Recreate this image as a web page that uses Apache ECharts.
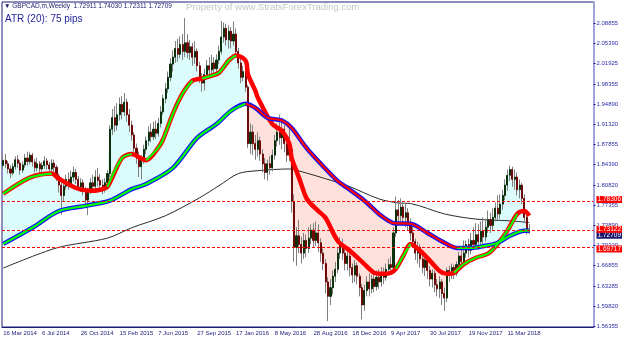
<!DOCTYPE html>
<html>
<head>
<meta charset="utf-8">
<script src="https://cdn.jsdelivr.net/npm/echarts@6/dist/echarts.min.js"></script>
<style>
html, body { margin: 0; padding: 0; background: #fff; }
#main { width: 625px; height: 340px; }
</style>
</head>
<body>
<div id="main"></div>
<script>
// weekly candles: [open, close, low, high]
var candles = [
  [1.842,1.851,1.836,1.858],[1.851,1.845,1.838,1.862],[1.845,1.836,1.828,1.850],[1.836,1.829,1.820,1.842],
  [1.829,1.840,1.825,1.846],[1.840,1.852,1.835,1.858],[1.852,1.846,1.838,1.860],[1.846,1.834,1.826,1.851],
  [1.834,1.843,1.829,1.849],[1.843,1.855,1.838,1.862],[1.855,1.849,1.842,1.866],[1.849,1.860,1.844,1.865],
  [1.860,1.848,1.840,1.864],[1.848,1.838,1.830,1.853],[1.838,1.845,1.832,1.856],[1.845,1.836,1.828,1.850],
  [1.836,1.842,1.827,1.848],[1.842,1.850,1.836,1.858],[1.850,1.843,1.835,1.855],[1.843,1.836,1.829,1.848],
  [1.836,1.846,1.831,1.853],[1.846,1.839,1.830,1.852],[1.839,1.824,1.815,1.843],[1.824,1.808,1.795,1.828],
  [1.808,1.790,1.757,1.813],[1.790,1.806,1.780,1.812],[1.806,1.818,1.800,1.826],[1.818,1.810,1.800,1.830],
  [1.810,1.822,1.805,1.833],[1.822,1.830,1.814,1.840],[1.830,1.818,1.810,1.836],[1.818,1.805,1.797,1.824],
  [1.805,1.812,1.796,1.820],[1.812,1.800,1.790,1.818],[1.800,1.782,1.768,1.805],[1.782,1.798,1.756,1.803],
  [1.798,1.812,1.792,1.820],[1.812,1.806,1.798,1.826],[1.806,1.822,1.800,1.834],[1.822,1.816,1.806,1.838],
  [1.816,1.808,1.798,1.827],[1.808,1.800,1.792,1.818],[1.800,1.812,1.795,1.820],[1.812,1.828,1.804,1.834],
  [1.828,1.905,1.822,1.912],[1.905,1.925,1.895,1.940],[1.925,1.912,1.900,1.945],[1.912,1.930,1.903,1.950],
  [1.930,1.948,1.920,1.960],[1.948,1.935,1.922,1.962],[1.935,1.952,1.928,1.968],[1.952,1.930,1.918,1.958],
  [1.930,1.912,1.900,1.940],[1.912,1.895,1.885,1.920],[1.895,1.872,1.862,1.900],[1.872,1.858,1.845,1.880],
  [1.858,1.840,1.822,1.866],[1.840,1.852,1.818,1.860],[1.852,1.870,1.845,1.878],[1.870,1.885,1.862,1.892],
  [1.885,1.900,1.876,1.910],[1.900,1.892,1.882,1.915],[1.892,1.905,1.886,1.918],[1.905,1.898,1.888,1.920],
  [1.898,1.915,1.892,1.925],[1.915,1.935,1.908,1.945],[1.935,1.958,1.930,1.965],[1.958,1.975,1.950,1.985],
  [1.975,1.995,1.968,2.005],[1.995,2.018,1.988,2.028],[2.018,2.030,2.005,2.042],[2.030,2.045,2.020,2.058],
  [2.045,2.035,2.022,2.062],[2.035,2.052,2.028,2.066],[2.052,2.040,2.025,2.070],[2.040,2.055,2.030,2.098],
  [2.055,2.038,2.028,2.070],[2.038,2.048,2.025,2.060],[2.048,2.030,2.015,2.055],[2.030,2.040,2.018,2.058],
  [2.040,2.015,2.005,2.045],[2.015,1.995,1.985,2.022],[1.995,1.985,1.970,2.002],[1.985,2.000,1.972,2.010],
  [2.000,2.015,1.995,2.025],[2.015,2.008,1.998,2.030],[2.008,2.020,2.000,2.034],[2.020,2.010,2.002,2.030],
  [2.010,2.025,2.004,2.035],[2.025,2.040,2.018,2.050],[2.040,2.065,2.035,2.093],[2.065,2.080,2.055,2.090],
  [2.080,2.060,2.050,2.088],[2.060,2.075,2.045,2.085],[2.075,2.058,2.045,2.082],[2.058,2.070,2.050,2.092],
  [2.070,2.040,2.030,2.080],[2.040,2.020,2.010,2.046],[2.020,1.995,1.985,2.028],[1.995,2.005,1.988,2.015],
  [2.005,1.978,1.970,2.012],[1.978,1.880,1.872,1.982],[1.880,1.900,1.862,1.915],[1.900,1.880,1.860,1.912],
  [1.880,1.870,1.852,1.895],[1.870,1.885,1.858,1.900],[1.885,1.862,1.850,1.892],[1.862,1.845,1.830,1.870],
  [1.845,1.830,1.818,1.855],[1.830,1.845,1.816,1.852],[1.845,1.838,1.826,1.858],[1.838,1.860,1.832,1.870],
  [1.860,1.885,1.852,1.895],[1.885,1.900,1.875,1.915],[1.900,1.890,1.878,1.930],[1.890,1.905,1.870,1.925],
  [1.905,1.880,1.865,1.912],[1.880,1.860,1.848,1.888],[1.860,1.870,1.850,1.912],[1.870,1.780,1.760,1.876],
  [1.780,1.700,1.675,1.792],[1.700,1.720,1.668,1.735],[1.720,1.705,1.690,1.748],[1.705,1.690,1.672,1.718],
  [1.690,1.712,1.680,1.725],[1.712,1.698,1.683,1.722],[1.698,1.716,1.690,1.735],[1.716,1.730,1.705,1.740],
  [1.730,1.712,1.700,1.742],[1.712,1.725,1.702,1.745],[1.725,1.708,1.692,1.740],[1.708,1.690,1.675,1.716],
  [1.690,1.672,1.660,1.698],[1.672,1.640,1.620,1.680],[1.640,1.615,1.572,1.648],[1.615,1.630,1.600,1.645],
  [1.630,1.650,1.618,1.660],[1.650,1.662,1.640,1.675],[1.662,1.690,1.655,1.700],[1.690,1.705,1.680,1.718],
  [1.705,1.690,1.678,1.715],[1.690,1.672,1.660,1.698],[1.672,1.685,1.660,1.695],[1.685,1.665,1.650,1.692],
  [1.665,1.652,1.638,1.672],[1.652,1.668,1.640,1.678],[1.668,1.650,1.636,1.674],[1.650,1.630,1.615,1.655],
  [1.630,1.600,1.575,1.636],[1.600,1.625,1.590,1.635],[1.625,1.640,1.615,1.650],[1.640,1.628,1.615,1.655],
  [1.628,1.645,1.620,1.652],[1.645,1.632,1.622,1.656],[1.632,1.648,1.625,1.660],[1.648,1.640,1.628,1.662],
  [1.640,1.655,1.632,1.666],[1.655,1.648,1.636,1.665],[1.648,1.662,1.642,1.672],[1.662,1.670,1.655,1.680],
  [1.670,1.665,1.652,1.684],[1.665,1.725,1.660,1.735],[1.725,1.765,1.718,1.788],[1.765,1.755,1.738,1.782],
  [1.755,1.770,1.745,1.785],[1.770,1.752,1.740,1.778],[1.752,1.760,1.735,1.775],[1.760,1.742,1.730,1.768],
  [1.742,1.725,1.712,1.750],[1.725,1.710,1.700,1.738],[1.710,1.690,1.678,1.715],[1.690,1.700,1.672,1.710],
  [1.700,1.680,1.665,1.706],[1.680,1.665,1.655,1.690],[1.665,1.678,1.650,1.685],[1.678,1.660,1.645,1.684],
  [1.660,1.645,1.632,1.668],[1.645,1.655,1.630,1.662],[1.655,1.635,1.622,1.660],[1.635,1.628,1.615,1.645],
  [1.628,1.640,1.612,1.650],[1.640,1.620,1.600,1.645],[1.620,1.612,1.590,1.630],[1.612,1.660,1.605,1.665],
  [1.660,1.652,1.640,1.668],[1.652,1.665,1.645,1.672],[1.665,1.655,1.645,1.670],[1.655,1.670,1.650,1.676],
  [1.670,1.685,1.662,1.692],[1.685,1.675,1.665,1.702],[1.675,1.690,1.668,1.712],[1.690,1.705,1.682,1.712],
  [1.705,1.695,1.683,1.715],[1.695,1.712,1.688,1.725],[1.712,1.705,1.695,1.735],[1.705,1.722,1.700,1.742],
  [1.722,1.710,1.695,1.740],[1.710,1.728,1.702,1.745],[1.728,1.718,1.705,1.752],[1.718,1.735,1.710,1.750],
  [1.735,1.748,1.725,1.764],[1.748,1.738,1.725,1.760],[1.738,1.752,1.730,1.768],[1.752,1.768,1.745,1.778],
  [1.768,1.758,1.748,1.790],[1.758,1.775,1.750,1.792],[1.775,1.790,1.765,1.800],[1.790,1.808,1.782,1.818],
  [1.808,1.825,1.798,1.835],[1.825,1.835,1.815,1.842],[1.835,1.818,1.805,1.840],[1.818,1.822,1.800,1.835],
  [1.822,1.800,1.790,1.830],[1.800,1.808,1.785,1.818],[1.808,1.785,1.775,1.812],[1.785,1.752,1.745,1.792],
  [1.752,1.72911,1.722,1.760],[1.72911,1.72709,1.72311,1.74030]
];

// moving averages read at key weeks: [week index, price]
var fastMA = [
  [0,1.793],[11,1.821],[20,1.828],[23,1.819],[30,1.803],[36,1.798],[40,1.800],[43,1.805],
  [49,1.855],[53,1.862],[57,1.854],[59,1.851],[64,1.873],[66,1.888],[70,1.932],[74,1.967],
  [78,1.989],[82,1.993],[86,1.998],[89,2.003],[93,2.024],[96,2.033],[100,2.024],[101,2.000],
  [104,1.972],[105,1.960],[111,1.914],[115,1.902],[118,1.880],[119,1.855],[122,1.821],[125,1.786],
  [127,1.775],[130,1.763],[133,1.751],[138,1.711],[143,1.694],[149,1.671],[153,1.656],[157,1.654],
  [160,1.656],[162,1.663],[165,1.685],[168,1.706],[172,1.694],[176,1.677],[180,1.659],[183,1.654],
  [186,1.656],[190,1.671],[195,1.682],[200,1.689],[204,1.706],[208,1.729],[212,1.758],[215,1.763],
  [217,1.755]
];
var slowMA = [
  [0,1.706],[12,1.734],[23,1.763],[34,1.772],[44,1.781],[53,1.801],[59,1.810],[70,1.838],
  [80,1.890],[88,1.914],[94,1.937],[100,1.949],[104,1.942],[109,1.925],[115,1.920],[119,1.907],
  [125,1.873],[131,1.845],[138,1.815],[142,1.803],[149,1.781],[155,1.758],[159,1.746],[161,1.742],
  [168,1.741],[175,1.725],[182,1.708],[187,1.699],[193,1.699],[198,1.702],[204,1.708],[209,1.720],
  [215,1.729],[217,1.729]
];
var longMA = [
  [0,1.664],[22,1.699],[43,1.716],[53,1.734],[67,1.755],[81,1.786],[89,1.807],[97,1.828],
  [105,1.833],[118,1.836],[125,1.829],[133,1.819],[142,1.807],[155,1.784],[163,1.777],[168,1.776],
  [182,1.758],[195,1.749],[209,1.746],[217,1.743]
];

// week ranges where each average is rising / falling
var fastUp = [[0,20],[43,53],[59,78],[82,96],[162,168],[186,212]];
var slowUp = [[0,100],[187,217]];
var slowDown = [[100,187]];

var levels = [1.78306, 1.73122, 1.69717];
var lastPrice = 1.72709;
var yTicks = [2.08855, 2.05390, 2.01925, 1.98355, 1.94890, 1.91320, 1.87855, 1.84390,
  1.80820, 1.77355, 1.73890, 1.70320, 1.66855, 1.63285, 1.59820, 1.56355];
var xLabels = ['16 Mar 2014', '6 Jul 2014', '26 Oct 2014', '15 Feb 2015', '7 Jun 2015',
  '27 Sep 2015', '17 Jan 2016', '8 May 2016', '28 Aug 2016', '18 Dec 2016', '9 Apr 2017',
  '30 Jul 2017', '19 Nov 2017', '11 Mar 2018'];

var weeks = 244; // includes the empty shift area on the right
var cats = [];
for (var i = 0; i < weeks; i++) cats.push(String(i));

var UP = '#00ff00', DOWN = '#ff0000';
var NAVY = '#1c1c78';
var FONT = 'Liberation Sans';
var Y_MIN = 1.5618, Y_MAX = 2.1257;

// bodies only: low/high clipped to the body
var bodies = candles.map(function (c) {
  return [c[0], c[1], Math.min(c[0], c[1]), Math.max(c[0], c[1])];
});

function showTick(idx) { return idx % 16 === 0 && idx / 16 < xLabels.length; }

// area between the close and the slow average
function fillSeries(a, b, color) {
  return {
    type: 'custom',
    z: 1,
    silent: true,
    data: [[a, candles[a][1]]],
    renderItem: function (params, api) {
      var pts = [];
      for (var i = a; i <= b; i++) pts.push(api.coord([i, candles[i][1]]));
      for (var k = slowMA.length - 1; k >= 0; k--) {
        if (slowMA[k][0] >= a && slowMA[k][0] <= b) pts.push(api.coord(slowMA[k]));
      }
      return { type: 'polygon', shape: { points: pts }, style: { fill: color } };
    }
  };
}

function maLine(points, color, width) {
  return {
    type: 'line', data: points, smooth: 0.3, showSymbol: false, silent: true, z: 4,
    lineStyle: { color: color, width: width }
  };
}

function overlays(points, ranges, color, width) {
  return ranges.map(function (r) {
    return maLine(points.filter(function (p) { return p[0] >= r[0] && p[0] <= r[1]; }), color, width);
  });
}

// extra right axis that only carries boxed price tags
function tagAxis(values, bg, vAlign) {
  return {
    type: 'value', position: 'right', min: Y_MIN, max: Y_MAX, z: 5,
    axisLine: { show: false }, axisTick: { show: false }, splitLine: { show: false },
    axisLabel: {
      customValues: values, margin: 3, verticalAlign: vAlign,
      color: '#fff', backgroundColor: bg, fontSize: 6.5, fontFamily: FONT,
      padding: [0, 1, 0, 1], lineHeight: 7,
      formatter: function (v) { return v.toFixed(5); }
    }
  };
}

var chart = echarts.init(document.getElementById('main'));

var series = [
  fillSeries(0, 100, '#dcfbfb'),
  fillSeries(100, 193, '#ffe1dc'),
  fillSeries(193, 217, '#dcfbfb'),
  {
    type: 'line', data: longMA, smooth: 0.3, showSymbol: false, silent: true, z: 2,
    lineStyle: { color: '#2a2a2a', width: 1 }
  },
  {
    type: 'candlestick', data: candles, barWidth: 0.8, silent: true, z: 3,
    itemStyle: { color: '#808080', color0: '#808080', borderColor: '#808080', borderColor0: '#808080', borderWidth: 1 }
  },
  {
    type: 'candlestick', data: bodies, barWidth: 1.6, silent: true, z: 3,
    itemStyle: { color: '#0c300c', color0: '#6e0a0a', borderColor: '#0c300c', borderColor0: '#6e0a0a', borderWidth: 1 },
    markLine: {
      symbol: 'none', silent: true,
      lineStyle: { color: '#ff0000', type: [3, 2], width: 1 },
      label: { show: false },
      data: levels.map(function (v) { return { yAxis: v }; })
    }
  },
  maLine(fastMA, '#ff0000', 4.5),
  maLine(slowMA, '#1010ff', 4.5)
];
series = series
  .concat(overlays(fastMA, fastUp, UP, 2.2))
  .concat(overlays(slowMA, slowUp, UP, 2.2))
  .concat(overlays(slowMA, slowDown, DOWN, 2.2));

chart.setOption({
  animation: false,
  backgroundColor: '#fff',
  grid: { left: 2, right: 27, top: 2, bottom: 13, show: true, borderColor: NAVY, borderWidth: 1 },
  xAxis: {
    type: 'category',
    data: cats,
    boundaryGap: true,
    axisLine: { lineStyle: { color: NAVY, width: 1 } },
    axisTick: { inside: true, length: 3, alignWithLabel: true, interval: showTick, lineStyle: { color: NAVY } },
    axisLabel: {
      interval: showTick, align: 'left', margin: 3, fontSize: 6, fontFamily: FONT, color: NAVY,
      formatter: function (v) { return xLabels[parseInt(v, 10) / 16]; }
    },
    splitLine: { show: false }
  },
  yAxis: [
    {
      type: 'value',
      position: 'right',
      min: Y_MIN,
      max: Y_MAX,
      axisLine: { show: true, lineStyle: { color: '#a4a4dc', width: 2 } },
      axisTick: { show: true, customValues: yTicks, length: 2, lineStyle: { color: NAVY } },
      axisLabel: {
        customValues: yTicks, margin: 3, fontSize: 6, fontFamily: FONT, color: '#2e2ea6',
        formatter: function (v) { return v.toFixed(5); }
      },
      splitLine: { show: false }
    },
    tagAxis([lastPrice], '#191970', 'top'),
    tagAxis(levels, '#ff0000', 'middle')
  ],
  graphic: [
    { type: 'text', left: 4, top: 3, style: { text: '\u25BC GBPCAD,m,Weekly  1.72911 1.74030 1.72311 1.72709', fill: '#1b1b6e', fontSize: 6.5, fontFamily: FONT } },
    { type: 'text', left: 186, top: 2, style: { text: 'Property of www.StratsForexTrading.com', fill: '#c6c6c6', fontSize: 9.5, fontFamily: FONT } },
    { type: 'text', left: 5, top: 14, style: { text: 'ATR (20): 75 pips', fill: '#1f1f9a', fontSize: 10, fontFamily: FONT } }
  ],
  series: series
});

window.onresize = function () {
  chart.resize();
};
</script>
</body>
</html>
